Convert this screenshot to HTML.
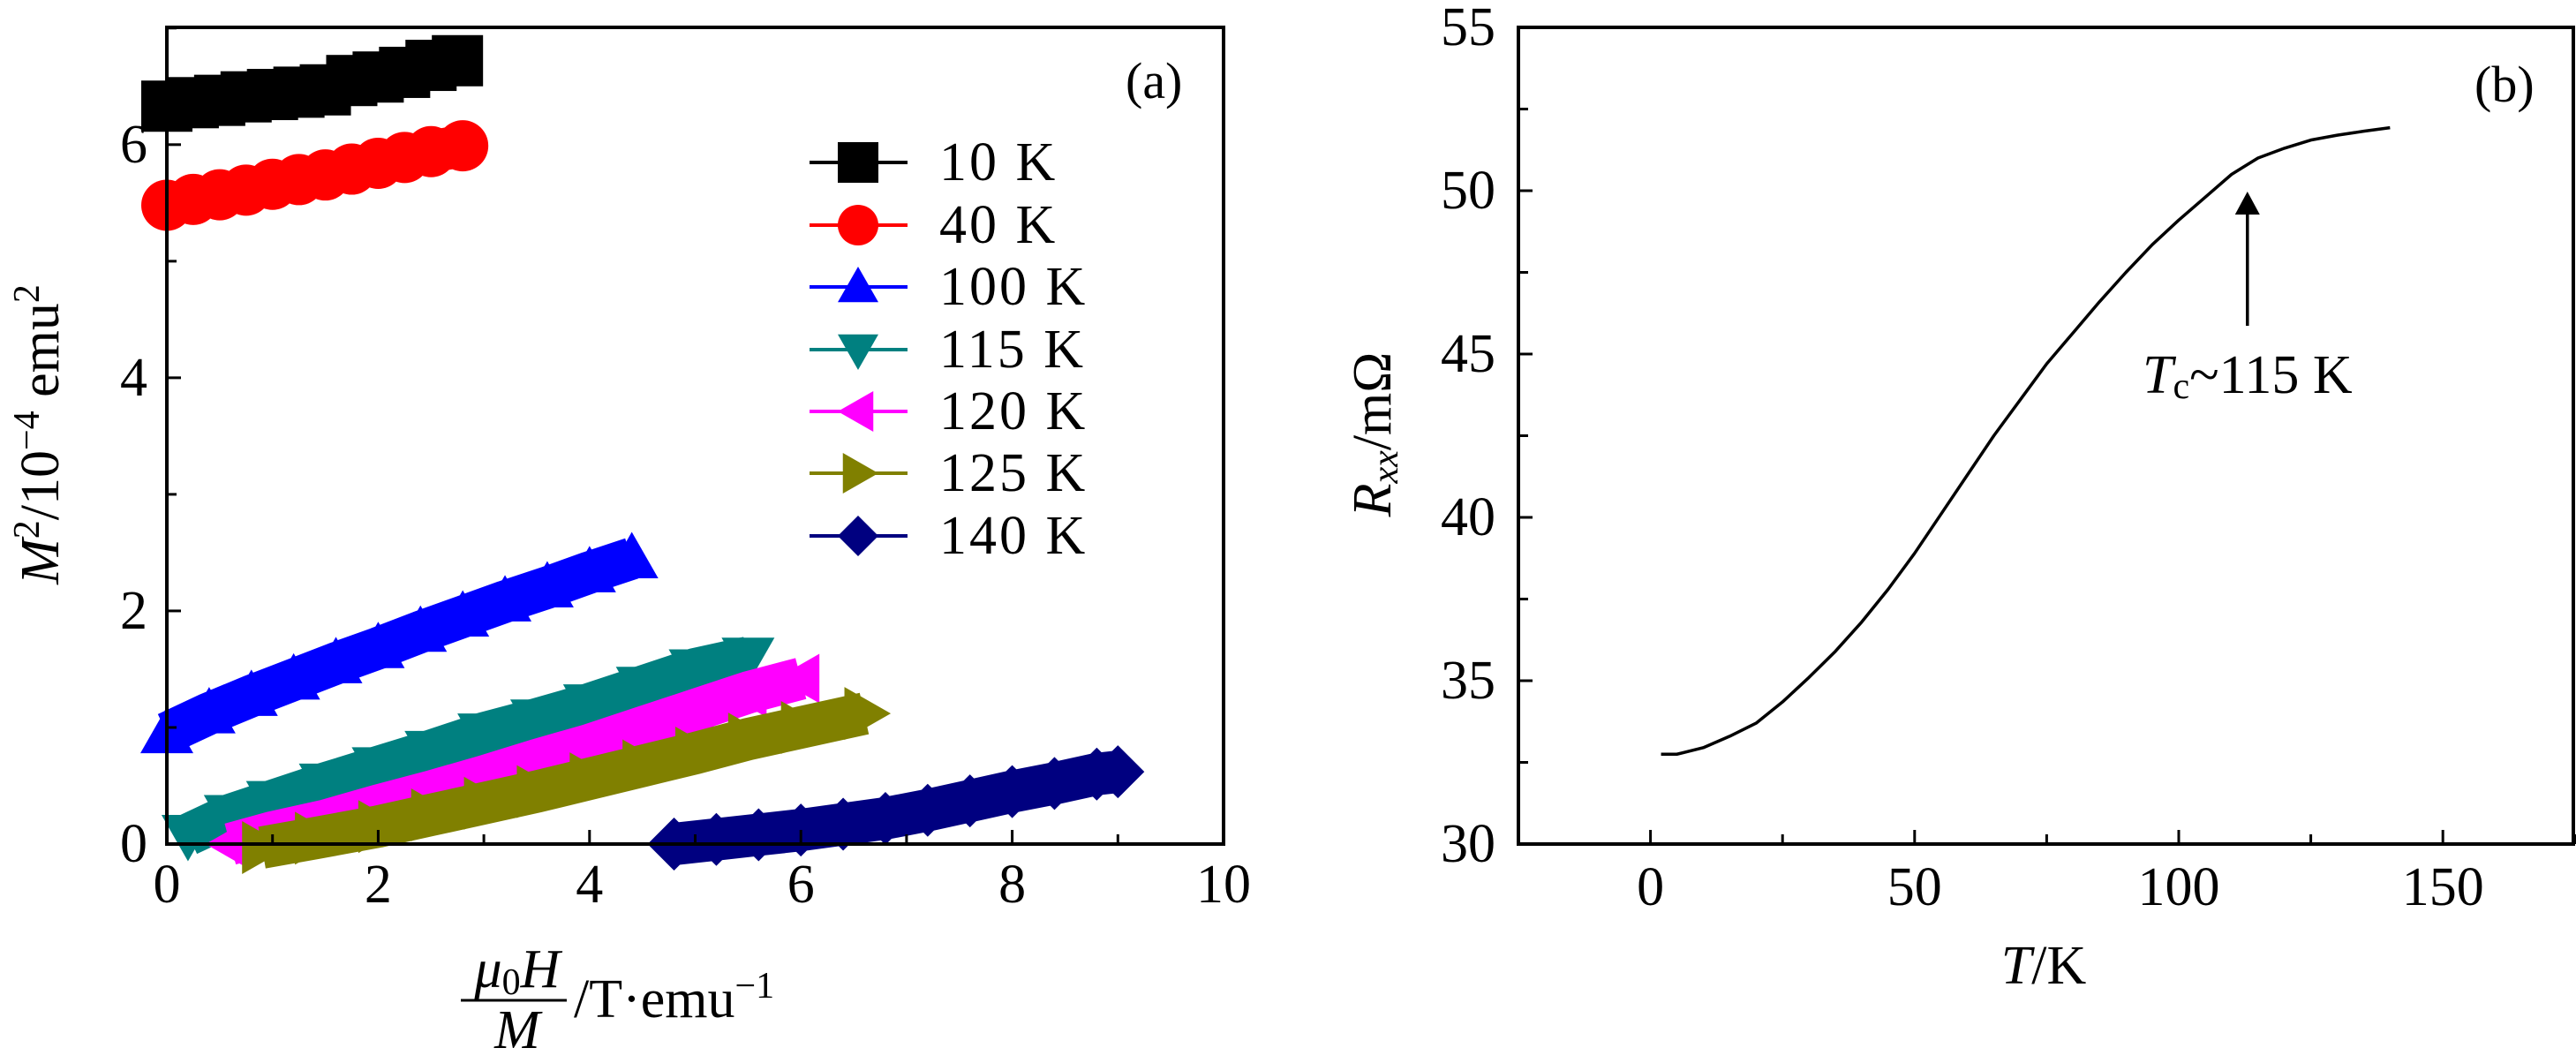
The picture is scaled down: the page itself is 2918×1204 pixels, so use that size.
<!DOCTYPE html>
<html><head><meta charset="utf-8"><style>
html,body{margin:0;padding:0;background:#fff;overflow:hidden}
svg{display:block}
text{font-family:"Liberation Serif",serif;fill:#000}
</style></head><body>
<svg id="fig" width="2918" height="1204" viewBox="0 0 2918 1204">
<g id="pa"></g>
<g id="pb"></g>
</svg>
<script>
// Panel (a) data
const aXTicks=[0,2,4,6,8,10];
const aYTicks=[0,2,4,6];
const seriesLabels=["10 K","40 K","100 K","115 K","120 K","125 K","140 K"];
const seriesColors=["#000000","#ff0000","#0000ff","#008080","#ff00ff","#808000","#000080"];
const seriesMarkers=["square","circle","up","down","left","right","diamond"];
const x10=[0,0.25,0.5,0.75,1,1.25,1.5,1.75,2,2.25,2.5,2.75];
const y10=[6.33,6.36,6.38,6.41,6.43,6.45,6.47,6.55,6.58,6.62,6.68,6.72];
const x40=[0,0.25,0.5,0.75,1,1.25,1.5,1.75,2,2.25,2.5,2.8];
const y40=[5.48,5.53,5.57,5.61,5.66,5.70,5.74,5.79,5.84,5.89,5.94,5.99];
const x100=[0,0.4,0.8,1.2,1.6,2,2.4,2.8,3.2,3.6,4,4.4];
const y100=[0.95,1.12,1.27,1.41,1.55,1.68,1.82,1.95,2.08,2.2,2.33,2.45];
const x115=[0.2,0.6,1,1.5,2,2.5,3,3.5,4,4.5,5,5.5];
const y115=[0.08,0.25,0.37,0.52,0.66,0.8,0.95,1.07,1.2,1.35,1.5,1.6];
const x120=[0.6,1,1.5,2,2.5,3,3.5,4,4.5,5,5.5,6.0];
const y120=[0.0,0.1,0.2,0.33,0.45,0.58,0.72,0.85,1.0,1.15,1.3,1.42];
const x125=[0.9,1.4,2,2.5,3,3.5,4,4.5,5,5.5,6,6.6];
const y125=[-0.03,0.05,0.15,0.25,0.35,0.45,0.56,0.67,0.78,0.9,1.0,1.12];
const x140=[4.8,5.2,5.6,6,6.4,6.8,7.2,7.6,8,8.4,8.8,9.0];
const y140=[0.0,0.04,0.08,0.12,0.17,0.22,0.29,0.37,0.45,0.52,0.6,0.62];
// Panel (b) data
const bXTicks=[0,50,100,150];
const bYTicks=[30,35,40,45,50,55];
const tempK=[2,5,10,15,20,25,30,35,40,45,50,55,60,65,70,75,80,85,90,95,100,105,110,115,120,125,130,135,140];
const rxx=[32.75,32.75,32.95,33.3,33.7,34.35,35.1,35.9,36.8,37.8,38.9,40.1,41.3,42.5,43.6,44.7,45.65,46.6,47.5,48.35,49.1,49.8,50.5,51.0,51.3,51.55,51.7,51.82,51.93];
const tcValue=[113];

const NS="http://www.w3.org/2000/svg";
function mk(parent,tag,attrs){const e=document.createElementNS(NS,tag);for(const k in attrs)e.setAttribute(k,attrs[k]);parent.appendChild(e);return e;}

// ---------- Panel A ----------
const pa=document.getElementById('pa');
const A={l:189,r:1386,t:31,b:956,x0:0,x1:10,y0:0,y1:7.006};
const ax=v=>A.l+(v-A.x0)/(A.x1-A.x0)*(A.r-A.l);
const ay=v=>A.b-(v-A.y0)/(A.y1-A.y0)*(A.b-A.t);
function marker(g,type,cx,cy,s,color){
  let e;const h=s/2;
  if(type==="square") e=mk(g,'rect',{x:cx-h,y:cy-h,width:s,height:s,fill:color});
  else if(type==="circle") e=mk(g,'circle',{cx:cx,cy:cy,r:h,fill:color});
  else{
    let p;
    if(type==="up") p=[[cx,cy-h],[cx+h,cy+h*0.75],[cx-h,cy+h*0.75]];
    else if(type==="down") p=[[cx,cy+h],[cx+h,cy-h*0.75],[cx-h,cy-h*0.75]];
    else if(type==="left") p=[[cx-h,cy],[cx+h*0.75,cy-h],[cx+h*0.75,cy+h]];
    else if(type==="right") p=[[cx+h,cy],[cx-h*0.75,cy-h],[cx-h*0.75,cy+h]];
    else p=[[cx,cy-h],[cx+h,cy],[cx,cy+h],[cx-h,cy]];
    e=mk(g,'polygon',{points:p.map(q=>q.join(',')).join(' '),fill:color});
  }
  return e;
}
const clipA=mk(mk(pa,'defs',{}),'clipPath',{id:'clipA'});
mk(clipA,'rect',{x:A.l-40,y:A.t,width:A.r-A.l+80,height:A.b-A.t+40});
const allX=[x10,x40,x100,x115,x120,x125,x140];
const allY=[y10,y40,y100,y115,y120,y125,y140];
const sizes=[58,58,60,60,56,60,60];
allX.forEach((xs,i)=>{
  const g=mk(pa,'g',{'clip-path':'url(#clipA)'});
  
  
  mk(g,'polyline',{points:xs.map((x,j)=>ax(x)+','+ay(allY[i][j])).join(' '),fill:'none',stroke:seriesColors[i],'stroke-width':48,'stroke-linejoin':'round'});
  xs.forEach((x,j)=>{
    const m=marker(g,seriesMarkers[i],ax(x),ay(allY[i][j]),sizes[i],seriesColors[i]);
    
    
  });
});
const fa=mk(pa,'rect',{x:A.l,y:A.t,width:A.r-A.l,height:A.b-A.t,fill:'none',stroke:'#000','stroke-width':4});


for(let v=0;v<=10;v++){
  const t=mk(pa,'line',{x1:ax(v),x2:ax(v),y1:A.b,y2:A.b-(v%2===0?16:11),stroke:'#000','stroke-width':3});
  
  
}
for(let v=0;v<=7;v++){
  const t=mk(pa,'line',{x1:A.l,x2:A.l+(v%2===0?16:11),y1:ay(v),y2:ay(v),stroke:'#000','stroke-width':3});
  
  
}
aXTicks.forEach(v=>{
  const t=mk(pa,'text',{x:ax(v),y:1022,'font-size':62,'text-anchor':'middle'});t.textContent=v;
  
  
});
aYTicks.forEach(v=>{
  const t=mk(pa,'text',{x:167,y:ay(v)+20,'font-size':62,'text-anchor':'end'});t.textContent=v;
  
  
});
const rowsY=[184,255,325,396,466,536,607];
const lg=mk(pa,'g',{});


seriesLabels.forEach((s,i)=>{
  const g=mk(lg,'g',{});
  
  
  mk(g,'line',{x1:917,x2:1028,y1:rowsY[i],y2:rowsY[i],stroke:seriesColors[i],'stroke-width':4});
  marker(g,seriesMarkers[i],972,rowsY[i],46,seriesColors[i]);
  const t=mk(g,'text',{x:1064,y:rowsY[i]+20,'font-size':62,'letter-spacing':3});t.textContent=s;
});
const la=mk(pa,'text',{x:1275,y:111,'font-size':58});la.textContent='(a)';


const yta=mk(pa,'text',{transform:'translate(66,492) rotate(-90)','font-size':62,'text-anchor':'middle'});
yta.innerHTML='<tspan font-style="italic">M</tspan><tspan dy="-22" font-size="42">2</tspan><tspan dy="22">/10</tspan><tspan dy="-22" font-size="42">−4</tspan><tspan dy="22"> emu</tspan><tspan dy="-22" font-size="42">2</tspan>';


const xta=mk(pa,'g',{});


const n1=mk(xta,'text',{x:586,y:1118,'font-size':62,'text-anchor':'middle'});
n1.innerHTML='<tspan font-style="italic">μ</tspan><tspan font-size="42" dy="8">0</tspan><tspan dy="-8" font-style="italic">H</tspan>';
mk(xta,'line',{x1:522,x2:642,y1:1133,y2:1133,stroke:'#000','stroke-width':3});
const n2=mk(xta,'text',{x:586,y:1187,'font-size':62,'text-anchor':'middle','font-style':'italic'});n2.textContent='M';
const n3=mk(xta,'text',{x:650,y:1152,'font-size':62});
n3.innerHTML='/T·emu<tspan dy="-22" font-size="42">−1</tspan>';

// ---------- Panel B ----------
const pb=document.getElementById('pb');
const B={l:1720,r:2915,t:31,b:956,x0:-25,x1:174.7,y0:30,y1:55};
const bx=v=>B.l+(v-B.x0)/(B.x1-B.x0)*(B.r-B.l);
const by=v=>B.b-(v-B.y0)/(B.y1-B.y0)*(B.b-B.t);
const curve=mk(pb,'polyline',{points:tempK.map((t,i)=>bx(t)+','+by(rxx[i])).join(' '),fill:'none',stroke:'#000','stroke-width':3.5,'stroke-linejoin':'round'});


const fb=mk(pb,'rect',{x:B.l,y:B.t,width:B.r-B.l,height:B.b-B.t,fill:'none',stroke:'#000','stroke-width':4});


for(let v=0;v<=175;v+=25){
  const t=mk(pb,'line',{x1:bx(v),x2:bx(v),y1:B.b,y2:B.b-(v%50===0?16:11),stroke:'#000','stroke-width':3});
  
  
}
for(let v=30;v<=55;v+=2.5){
  const t=mk(pb,'line',{x1:B.l,x2:B.l+(v%5===0?16:11),y1:by(v),y2:by(v),stroke:'#000','stroke-width':3});
  
  
}
bXTicks.forEach(v=>{
  const t=mk(pb,'text',{x:bx(v),y:1025,'font-size':62,'text-anchor':'middle'});t.textContent=v;
  
  
});
bYTicks.forEach(v=>{
  const t=mk(pb,'text',{x:1694,y:by(v)+20,'font-size':62,'text-anchor':'end'});t.textContent=v;
  
  
});
const ar=mk(pb,'g',{});


mk(ar,'line',{x1:bx(tcValue[0]),x2:bx(tcValue[0]),y1:369,y2:235,stroke:'#000','stroke-width':3.5});
mk(ar,'polygon',{points:`${bx(tcValue[0])},217 ${bx(tcValue[0])+14},243 ${bx(tcValue[0])-14},243`,fill:'#000'});
const tc=mk(pb,'text',{x:2427,y:445,'font-size':62});
tc.innerHTML='<tspan font-style="italic">T</tspan><tspan font-size="42" dy="6">c</tspan><tspan dy="-6">~115 K</tspan>';


const lb=mk(pb,'text',{x:2803,y:115,'font-size':58});lb.textContent='(b)';


const ytb=mk(pb,'text',{transform:'translate(1575,492) rotate(-90)','font-size':62,'text-anchor':'middle'});
ytb.innerHTML='<tspan font-style="italic">R</tspan><tspan font-size="42" dy="8" font-style="italic">xx</tspan><tspan dy="-8">/mΩ</tspan>';


const xtb=mk(pb,'text',{x:2315,y:1114,'font-size':62,'text-anchor':'middle'});
xtb.innerHTML='<tspan font-style="italic">T</tspan>/K';


</script>
</body></html>
